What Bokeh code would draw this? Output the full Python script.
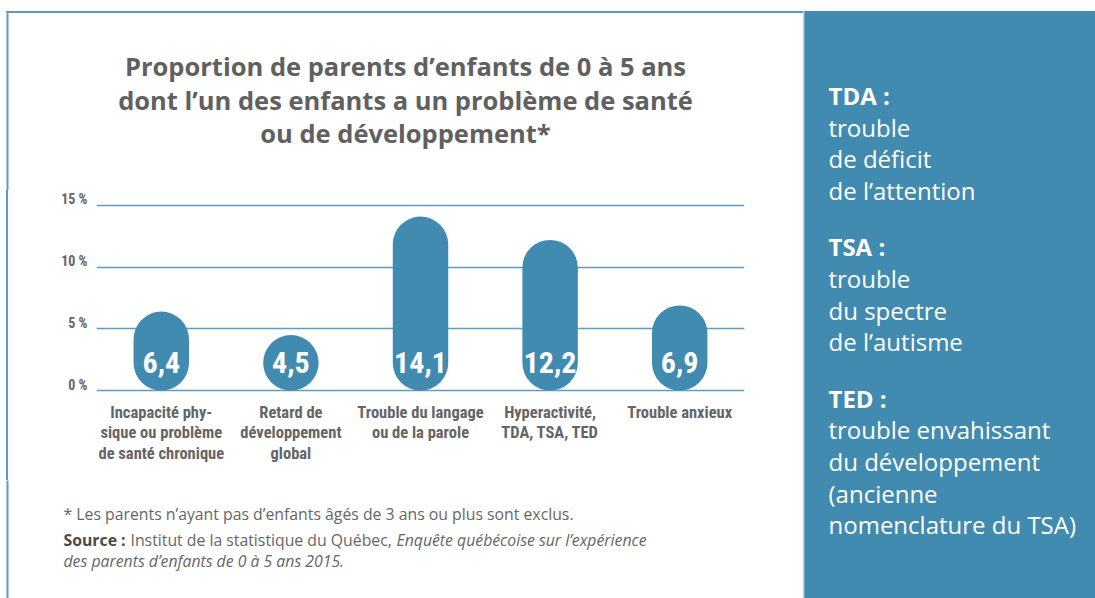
from bokeh.plotting import figure
from bokeh.layouts import row, column
from bokeh.models import FactorRange, Range1d, FixedTicker
from bokeh.core.properties import value
from bokeh.embed import file_html
from bokeh.resources import INLINE

# ---- data ----
categories = [
    "Incapacité phy-\nsique ou problème\nde santé chronique",
    "Retard de\ndéveloppement\nglobal",
    "Trouble du langage\nou de la parole",
    "Hyperactivité,\nTDA, TSA, TED",
    "Trouble anxieux",
]
values = [6.4, 4.5, 14.1, 12.2, 6.9]
value_labels = ["6,4", "4,5", "14,1", "12,2", "6,9"]
y_ticks = [0, 5, 10, 15]
y_tick_labels = ["0 %", "5 %", "10 %", "15 %"]
title_lines = [
    "Proportion de parents d’enfants de 0 à 5 ans",
    "dont l’un des enfants a un problème de santé",
    "ou de développement*",
]
side_heads = ["TDA :", "TSA :", "TED :"]
side_texts = [
    ["trouble", "de déficit", "de l’attention"],
    ["trouble", "du spectre", "de l’autisme"],
    ["trouble envahissant", "du développement", "(ancienne", "nomenclature du TSA)"],
]
footnote = "* Les parents n’ayant pas d’enfants âgés de 3 ans ou plus sont exclus."
source_head = "Source :"
source_plain = "Institut de la statistique du Québec, "
source_italic_1 = "Enquête québécoise sur l’expérience"
source_italic_2 = "des parents d’enfants de 0 à 5 ans 2015."

# ---- style ----
BLUE = "#418bb0"
BORDER = "#5b9bc4"
GRID = "#5d9dc3"
GREY = "#656565"
NARROW = "Roboto Condensed, DejaVu Sans Condensed, Liberation Sans Narrow, Roboto"
SANS = "Open Sans"
FOOT = "Open Sans"


def blank(w, h):
    f = figure(width=w, height=h, x_range=Range1d(0, w), y_range=Range1d(h, 0),
               x_axis_type=None, y_axis_type=None, output_backend="svg",
               toolbar_location=None, min_border=0)
    f.outline_line_color = None
    f.grid.visible = False
    f.background_fill_color = "white"
    f.border_fill_color = "white"
    f.frame_align = False
    return f


# ---- title area ----
LW = 803
TH = 190
tf = blank(LW, TH)
tf.quad(left=6, right=LW, top=10.5, bottom=12.5, fill_color=BORDER, line_color=None)
tf.quad(left=6, right=8, top=10.5, bottom=TH + 2, fill_color=BORDER, line_color=None)
tf.text(x=405, y=[65.5 + 33.7 * i for i in range(len(title_lines))], text=title_lines,
        text_font=value(SANS), text_font_style="bold", text_font_size="25.5px",
        text_color="#606060", text_align="center", text_baseline="middle")

# ---- chart ----
CH = 290
p = figure(
    width=LW, height=CH,
    x_range=FactorRange(*categories, range_padding=0),
    y_range=Range1d(-0.4, 15.4),
    output_backend="svg", toolbar_location=None,
    min_border_left=96, min_border_right=59,
    min_border_top=10, min_border_bottom=85,
)
p.frame_align = False
p.outline_line_color = None
p.background_fill_color = "white"
p.border_fill_color = None
p.styles = {"background": f"linear-gradient(to right, white 6px, {BORDER} 6px, "
                          f"{BORDER} 8px, white 8px)"}

p.xgrid.visible = False
p.ygrid.ticker = FixedTicker(ticks=y_ticks)
p.ygrid.grid_line_color = GRID
p.ygrid.grid_line_width = 1.5

p.yaxis.ticker = FixedTicker(ticks=y_ticks)
p.yaxis.major_label_overrides = {t: l + "\n" for t, l in zip(y_ticks, y_tick_labels)}
p.yaxis.axis_line_color = None
p.yaxis.major_tick_line_color = None
p.yaxis.minor_tick_line_color = None
p.yaxis.major_label_text_font = NARROW
p.yaxis.major_label_text_font_style = "bold"
p.yaxis.major_label_text_font_size = "14px"
p.yaxis.major_label_text_color = GREY
p.yaxis.major_label_text_line_height = 0.75
p.yaxis.major_label_standoff = 3

p.xaxis.axis_line_color = None
p.xaxis.major_tick_line_color = None
p.xaxis.minor_tick_line_color = None
p.xaxis.major_label_text_font = NARROW
p.xaxis.major_label_text_font_style = "bold"
p.xaxis.major_label_text_font_size = "16.5px"
p.xaxis.major_label_text_color = GREY
p.xaxis.major_label_text_line_height = 1.1
p.xaxis.major_label_standoff = 1

p.vbar(x=categories, top=values, bottom=0, width=0.428,
       fill_color=BLUE, line_color=None, border_radius=28)
p.text(x=categories, y=2.3, text=value_labels,
       text_font=value(NARROW), text_font_style="bold", text_font_size="30px",
       text_color="white", text_align="center", text_baseline="middle")

# ---- footnotes ----
FH = 598 - TH - CH
ff = blank(LW, FH)
ff.quad(left=6, right=8, top=-2, bottom=FH, fill_color=BORDER, line_color=None)
FS = "15.8px"
FC = "#666666"
ff.text(x=63, y=33, text=[footnote], text_font=value(FOOT), text_font_size=FS,
        text_color=FC, text_baseline="middle")
ff.text(x=63, y=59.7, text=[source_head], text_font=value(FOOT), text_font_style="bold",
        text_font_size=FS, text_color="#4a4a4a", text_baseline="middle")
ff.text(x=130, y=59.7, text=[source_plain], text_font=value(FOOT), text_font_size=FS,
        text_color=FC, text_baseline="middle")
ff.text(x=396, y=59.7, text=[source_italic_1], text_font=value(FOOT), text_font_style="italic",
        text_font_size=FS, text_color=FC, text_baseline="middle")
ff.text(x=63, y=80, text=[source_italic_2], text_font=value(FOOT), text_font_style="italic",
        text_font_size=FS, text_color=FC, text_baseline="middle")

# ---- side panel ----
SW = 1095 - LW
sf = blank(SW, 598)
sf.quad(left=0, right=SW, top=10.5, bottom=598, fill_color=BLUE, line_color=None)
sf.quad(left=0, right=1.5, top=10.5, bottom=598, fill_color="#6fa8cc", line_color=None)
y = 95
for head, lines in zip(side_heads, side_texts):
    sf.text(x=25, y=y, text=[head], text_font=value(SANS), text_font_style="bold",
            text_font_size="24px", text_color="white", text_baseline="middle")
    sf.text(x=25, y=[y + 31.6 * (j + 1) for j in range(len(lines))], text=lines,
            text_font=value(SANS), text_font_size="24px", text_color="white",
            text_baseline="middle")
    y += 31.6 * (len(lines) + 1) + 25

layout = row(column(tf, p, ff), sf)
open("out.html", "w").write(file_html(layout, INLINE))
